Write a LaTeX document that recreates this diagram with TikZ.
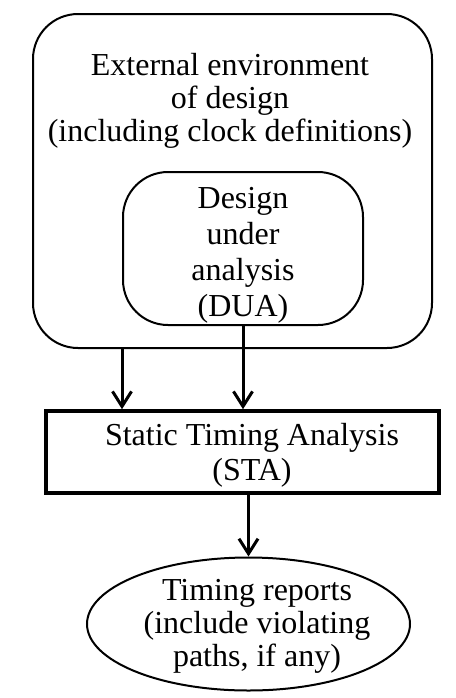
\documentclass[tikz,border=0pt]{standalone}
\usepackage{fontspec}
\setmainfont{Liberation Serif}
\usetikzlibrary{calc,positioning,arrows.meta,shapes.geometric}

\begin{document}
\begin{tikzpicture}[x=0.5pt,y=-0.5pt,font=\fontsize{16}{16.5}\selectfont,
  roundbox/.style={draw,line width=1pt,rounded corners=22.5pt,inner sep=0pt},
  stabox/.style={draw,line width=1.8pt,inner sep=0pt,minimum width=196.5pt,minimum height=41pt},
  repell/.style={draw,ellipse,line width=1pt,inner sep=0pt,minimum width=161.5pt,minimum height=66.5pt},
  lbl/.style={align=center,inner sep=0pt},
  arr/.style={line width=1.5pt,-{Straight Barb[length=7.5pt,width=9.5pt]}}]
\useasboundingbox (0,0) rectangle (456,698);
% environment and design
\node[roundbox,minimum width=199.5pt,minimum height=167pt] (env) at (232.5,181) {};
\node[lbl] (envtext) at (230,101) {External environment\\of design\\(including clock definitions)};
\node[roundbox,minimum width=120pt,minimum height=76.5pt] (dua) at (243,248.5) {};
\node[lbl,font=\fontsize{16}{18}\selectfont] (duatext) at (243,255) {Design\\under\\analysis\\(DUA)};
% analysis and reports
\node[stabox] (sta) at (242.5,452) {};
\node[lbl,font=\fontsize{16}{17.5}\selectfont] (statext) at (252,455) {Static Timing Analysis\\(STA)};
\node[repell] (rep) at (248.5,624) {};
\node[lbl] (reptext) at (257,626) {Timing reports\\(include violating\\paths, if any)};
% connectors
\coordinate (envout) at ($(env.south west)+(90,0)$);
\draw[arr] (envout) -- (envout |- sta.north);
\draw[arr] (dua.south) -- (dua.south |- sta.north);
\draw[arr] (rep.north |- sta.south) -- (rep.north);
\end{tikzpicture}
\end{document}
